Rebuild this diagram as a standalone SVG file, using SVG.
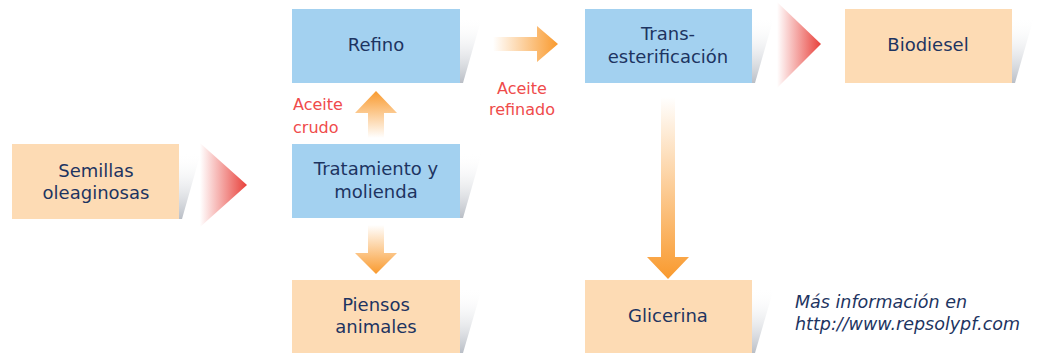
<svg xmlns="http://www.w3.org/2000/svg" width="1038" height="354" viewBox="0 0 1038 354">
<defs>
<linearGradient id="sh" x1="0" y1="0" x2="0" y2="1"><stop offset="0" stop-color="#ffffff" stop-opacity="0"/><stop offset="1" stop-color="#b9bec6"/></linearGradient>
<linearGradient id="red" x1="0" y1="0" x2="1" y2="0"><stop offset="0" stop-color="#ffffff"/><stop offset="1" stop-color="#e8403a"/></linearGradient>
<linearGradient id="oR" x1="0" y1="0" x2="1" y2="0"><stop offset="0" stop-color="#ffffff"/><stop offset="1" stop-color="#f99a2e"/></linearGradient>
<linearGradient id="oU" x1="0" y1="1" x2="0" y2="0"><stop offset="0" stop-color="#ffffff"/><stop offset="1" stop-color="#f99a2e"/></linearGradient>
<linearGradient id="oD" x1="0" y1="0" x2="0" y2="1"><stop offset="0" stop-color="#ffffff"/><stop offset="1" stop-color="#f99a2e"/></linearGradient>
</defs>
<style>
.peach{fill:#fddbb4}
.blue{fill:#a3d1f0}
.t{font-family:"DejaVu Sans",Verdana,sans-serif;font-size:18px;fill:#1d3461;text-anchor:middle}
.r{font-family:"DejaVu Sans",Verdana,sans-serif;font-size:16px;fill:#ef4b4b}
.i{font-family:"DejaVu Sans",Verdana,sans-serif;font-size:17.5px;fill:#1d3461;font-style:italic}
</style>
<rect width="1038" height="354" fill="#ffffff"/>
<g id="connectors">
<polygon points="200,143 247,185 200,227" fill="url(#red)"/>
<polygon points="777,2 821,44 777,88" fill="url(#red)"/>
<polygon points="368,138 368,113 355,113 376,91 397,113 384,113 384,138" fill="url(#oU)"/>
<polygon points="368,225 368,253 355,253 376,274 397,253 384,253 384,225" fill="url(#oD)"/>
<polygon points="493,37 537,37 537,26 558,44 537,62 537,51 493,51" fill="url(#oR)"/>
<polygon points="661,97 661,257 647,257 668,279 689,257 675,257 675,97" fill="url(#oD)"/>
<text class="r" x="293" y="110">Aceite</text>
<text class="r" x="293" y="133">crudo</text>
<text class="r" x="522" y="94" text-anchor="middle">Aceite</text>
<text class="r" x="522" y="115" text-anchor="middle">refinado</text>
</g>
<g id="semillas">
<polygon points="179,152 201,152 182,219 179,219" fill="url(#sh)"/>
<rect class="peach" x="12" y="144" width="167" height="75"/>
<text class="t" x="96" y="177">Semillas</text>
<text class="t" x="96" y="199">oleaginosas</text>
</g>
<g id="refino">
<polygon points="460,17 482,17 463,83 460,83" fill="url(#sh)"/>
<rect class="blue" x="292" y="9" width="168" height="74"/>
<text class="t" x="376" y="51">Refino</text>
</g>
<g id="tratamiento">
<polygon points="460,152 482,152 463,218 460,218" fill="url(#sh)"/>
<rect class="blue" x="292" y="144" width="168" height="74"/>
<text class="t" x="376" y="175">Tratamiento y</text>
<text class="t" x="376" y="198">molienda</text>
</g>
<g id="piensos">
<polygon points="460,288 482,288 463,353 460,353" fill="url(#sh)"/>
<rect class="peach" x="292" y="280" width="168" height="73"/>
<text class="t" x="376" y="311">Piensos</text>
<text class="t" x="376" y="333">animales</text>
</g>
<g id="trans">
<polygon points="752,17 774,17 755,83 752,83" fill="url(#sh)"/>
<rect class="blue" x="585" y="9" width="167" height="74"/>
<text class="t" x="668" y="40">Trans-</text>
<text class="t" x="668" y="63">esterificación</text>
</g>
<g id="biodiesel">
<polygon points="1012,17 1034,17 1015,83 1012,83" fill="url(#sh)"/>
<rect class="peach" x="845" y="9" width="167" height="74"/>
<text class="t" x="928" y="51">Biodiesel</text>
</g>
<g id="glicerina">
<polygon points="752,288 774,288 755,353 752,353" fill="url(#sh)"/>
<rect class="peach" x="585" y="280" width="167" height="73"/>
<text class="t" x="668" y="322">Glicerina</text>
</g>
<g id="info">
<text class="i" x="795" y="308">Más información en</text>
<text class="i" x="795" y="330">http://www.repsolypf.com</text>
</g>
</svg>
